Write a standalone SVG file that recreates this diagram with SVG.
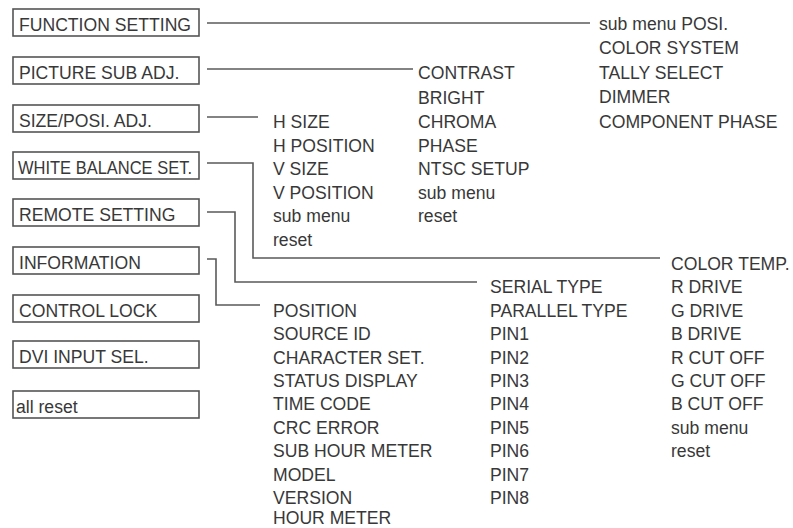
<svg xmlns="http://www.w3.org/2000/svg" width="793" height="528" viewBox="0 0 793 528">
<style>
text{font-family:"Liberation Sans",Arial,sans-serif;font-size:17.6px;fill:#383838}
.box{fill:#fff;stroke:#555;stroke-width:1.6}
.ln{fill:none;stroke:#5a5a5a;stroke-width:1.6}
</style>
<rect width="793" height="528" fill="#fff"/>
<g id="n-function"><rect class="box" x="13" y="9" width="186" height="27"/><text x="19" y="30.5">FUNCTION SETTING</text></g>
<g id="n-picture"><rect class="box" x="13" y="57" width="186" height="27"/><text x="19" y="78.5">PICTURE SUB ADJ.</text></g>
<g id="n-size"><rect class="box" x="13" y="105" width="186" height="27"/><text x="19" y="126.5">SIZE/POSI. ADJ.</text></g>
<g id="n-white"><rect class="box" x="13" y="152" width="186" height="27"/><text x="18" y="173.5" textLength="174" lengthAdjust="spacingAndGlyphs">WHITE BALANCE SET.</text></g>
<g id="n-remote"><rect class="box" x="13" y="199" width="186" height="27"/><text x="19" y="220.5">REMOTE SETTING</text></g>
<g id="n-info"><rect class="box" x="13" y="247" width="186" height="27"/><text x="19" y="268.5">INFORMATION</text></g>
<g id="n-lock"><rect class="box" x="13" y="295" width="186" height="27"/><text x="19" y="316.5">CONTROL LOCK</text></g>
<g id="n-dvi"><rect class="box" x="13" y="341" width="186" height="27"/><text x="19" y="362.5">DVI INPUT SEL.</text></g>
<g id="n-allreset"><rect class="box" x="13" y="391" width="186" height="27"/><text x="16" y="412.5">all reset</text></g>

<g id="connectors">
<path class="ln" d="M207 23H590"/>
<path class="ln" d="M207 69H413"/>
<path class="ln" d="M207 117H258"/>
<path class="ln" d="M207 163H253V258H660"/>
<path class="ln" d="M207 212H235V282H477"/>
<path class="ln" d="M207 259H216V305H260"/>
</g>

<g id="n-function-items">
<text x="599" y="29.5">sub menu POSI.</text>
<text x="599" y="54">COLOR SYSTEM</text>
<text x="599" y="78.5">TALLY SELECT</text>
<text x="599" y="103">DIMMER</text>
<text x="599" y="127.5">COMPONENT PHASE</text>
</g>
<g id="n-picture-items">
<text x="418" y="79">CONTRAST</text>
<text x="418" y="104">BRIGHT</text>
<text x="418" y="128">CHROMA</text>
<text x="418" y="152">PHASE</text>
<text x="418" y="175">NTSC SETUP</text>
<text x="418" y="199">sub menu</text>
<text x="418" y="222">reset</text>
</g>
<g id="n-size-items">
<text x="273" y="128">H SIZE</text>
<text x="273" y="152">H POSITION</text>
<text x="273" y="175">V SIZE</text>
<text x="273" y="199">V POSITION</text>
<text x="273" y="222">sub menu</text>
<text x="273" y="246">reset</text>
</g>
<g id="n-white-items">
<text x="671" y="270">COLOR TEMP.</text>
<text x="671" y="293">R DRIVE</text>
<text x="671" y="316.5">G DRIVE</text>
<text x="671" y="340">B DRIVE</text>
<text x="671" y="363.5">R CUT OFF</text>
<text x="671" y="387">G CUT OFF</text>
<text x="671" y="410">B CUT OFF</text>
<text x="671" y="433.5">sub menu</text>
<text x="671" y="457">reset</text>
</g>
<g id="n-remote-items">
<text x="490" y="293">SERIAL TYPE</text>
<text x="490" y="316.5">PARALLEL TYPE</text>
<text x="490" y="340">PIN1</text>
<text x="490" y="363.5">PIN2</text>
<text x="490" y="387">PIN3</text>
<text x="490" y="410">PIN4</text>
<text x="490" y="433.5">PIN5</text>
<text x="490" y="457">PIN6</text>
<text x="490" y="480.5">PIN7</text>
<text x="490" y="504">PIN8</text>
</g>
<g id="n-info-items">
<text x="273" y="316.5">POSITION</text>
<text x="273" y="340">SOURCE ID</text>
<text x="273" y="363.5">CHARACTER SET.</text>
<text x="273" y="387">STATUS DISPLAY</text>
<text x="273" y="410">TIME CODE</text>
<text x="273" y="433.5">CRC ERROR</text>
<text x="273" y="457">SUB HOUR METER</text>
<text x="273" y="480.5">MODEL</text>
<text x="273" y="504">VERSION</text>
<text x="273" y="524">HOUR METER</text>
</g>
</svg>
